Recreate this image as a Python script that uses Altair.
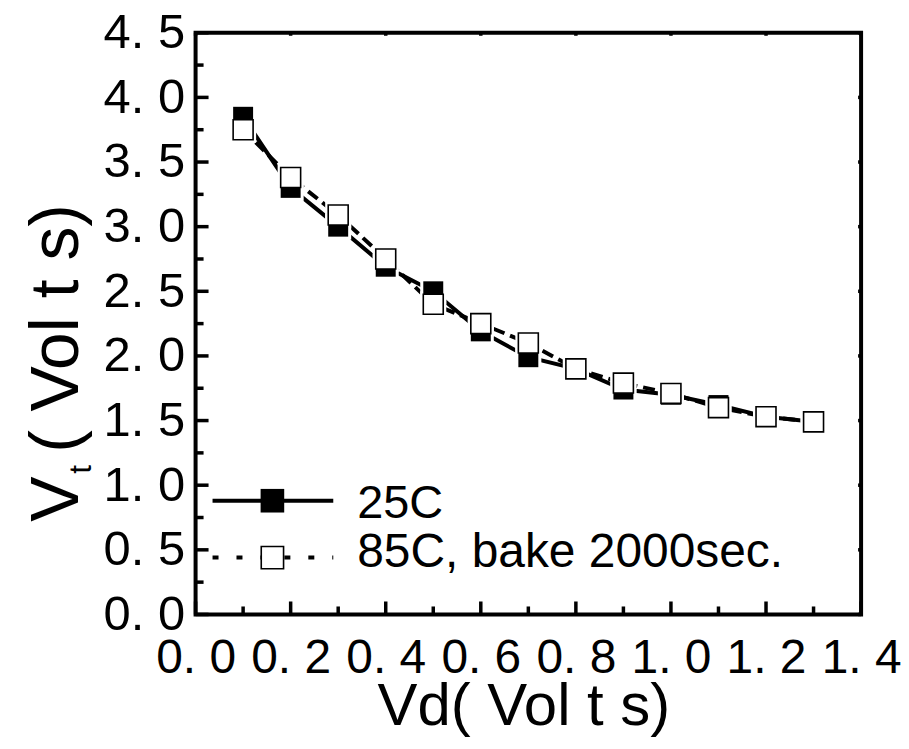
import altair as alt
import pandas as pd

# ---- data ----
vd = [0.1, 0.2, 0.3, 0.4, 0.5, 0.6, 0.7, 0.8, 0.9, 1.0, 1.1, 1.2, 1.3]
vt_25c = [3.85, 3.30, 3.00, 2.69, 2.50, 2.19, 1.99, 1.90, 1.74, 1.70, 1.62, 1.53, 1.49]
vt_85c = [3.75, 3.38, 3.09, 2.75, 2.40, 2.25, 2.10, 1.90, 1.79, 1.71, 1.60, 1.53, 1.49]
series_names = ["25C", "85C, bake 2000sec."]

x_major = [0.0, 0.2, 0.4, 0.6, 0.8, 1.0, 1.2, 1.4]
x_minor = [0.1, 0.3, 0.5, 0.7, 0.9, 1.1, 1.3]
y_major = [0.0, 0.5, 1.0, 1.5, 2.0, 2.5, 3.0, 3.5, 4.0, 4.5]
y_minor = [0.25, 0.75, 1.25, 1.75, 2.25, 2.75, 3.25, 3.75, 4.25]

x_title = "Vd( Vol t s)"
y_title_parts = ["V", "t", "( Vol t s)"]

# ---- layout ----
W, H = 667, 583
FONT = "Liberation Sans"

xs = alt.Scale(domain=[0, 1.4], nice=False, zero=False)
ys = alt.Scale(domain=[0, 4.5], nice=False, zero=False)

label_expr = "replace(format(datum.value, '.1f'), '.', '. ')"
xaxis = alt.Axis(values=x_major, labelExpr=label_expr, ticks=False, tickSize=0,
                 domain=False, grid=False, labelFont=FONT, labelFontSize=48,
                 labelColor="black", labelPadding=20, labelBaseline="top",
                 labelFlush=False, labelOverlap=False, title=None)
yaxis = alt.Axis(values=y_major, labelExpr=label_expr, ticks=False, tickSize=0,
                 domain=False, grid=False, labelFont=FONT, labelFontSize=49,
                 labelColor="black", labelPadding=11, labelBaseline="middle",
                 labelFlush=False, labelOverlap=False, title=None)

X = lambda f: alt.X(f, type="quantitative", scale=xs, axis=xaxis)
Y = lambda f: alt.Y(f, type="quantitative", scale=ys, axis=yaxis)

df = pd.DataFrame({"x": vd, "v25": vt_25c, "v85": vt_85c})

# ---- ticks (inward) ----
dxM = pd.DataFrame({"x": x_major})
dxm = pd.DataFrame({"x": x_minor})
dyM = pd.DataFrame({"y": y_major})
dym = pd.DataFrame({"y": y_minor})
tick_style = dict(color="black", strokeWidth=3.5)

ticks = [
    alt.Chart(dxM).mark_rule(**tick_style).encode(x=X("x"), y=alt.value(H), y2=alt.value(H - 13)),
    alt.Chart(dxm).mark_rule(**tick_style).encode(x=X("x"), y=alt.value(H), y2=alt.value(H - 8)),
    alt.Chart(dxM).mark_rule(**tick_style).encode(x=X("x"), y=alt.value(0), y2=alt.value(3)),
    alt.Chart(dyM).mark_rule(**tick_style).encode(y=Y("y"), x=alt.value(0), x2=alt.value(13)),
    alt.Chart(dym).mark_rule(**tick_style).encode(y=Y("y"), x=alt.value(0), x2=alt.value(8)),
    alt.Chart(dyM).mark_rule(**tick_style).encode(y=Y("y"), x=alt.value(W - 3), x2=alt.value(W)),
]

# ---- data series ----
line25 = alt.Chart(df).mark_line(color="black", strokeWidth=4).encode(x=X("x"), y=Y("v25"))
line85 = alt.Chart(df).mark_line(color="black", strokeWidth=4, strokeDash=[12, 6]).encode(x=X("x"), y=Y("v85"))
halo25 = alt.Chart(df).mark_point(shape="square", filled=True, color="white", opacity=1, size=680).encode(x=X("x"), y=Y("v25"))
halo85 = alt.Chart(df).mark_point(shape="square", filled=True, color="white", opacity=1, size=680).encode(x=X("x"), y=Y("v85"))
pts25 = alt.Chart(df).mark_point(shape="square", filled=True, color="black", opacity=1, size=400).encode(x=X("x"), y=Y("v25"))
pts85 = alt.Chart(df).mark_point(shape="square", filled=True, fill="white", stroke="black",
                                 strokeWidth=1.6, opacity=1, size=400).encode(x=X("x"), y=Y("v85"))

# ---- legend (drawn inside the plot) ----
leg1 = pd.DataFrame({"label": [series_names[0]]})
leg2 = pd.DataFrame({"label": [series_names[1]]})
legend = [
    alt.Chart(leg1).mark_rule(color="black", strokeWidth=4).encode(x=alt.value(17), x2=alt.value(138), y=alt.value(469)),
    alt.Chart(leg1).mark_point(shape="square", filled=True, color="black", opacity=1, size=560).encode(x=alt.value(77), y=alt.value(469)),
    alt.Chart(leg1).mark_text(align="left", baseline="alphabetic", font=FONT, fontSize=47, color="black").encode(
        x=alt.value(162), y=alt.value(486), text="label:N"),
    alt.Chart(leg2).mark_rule(color="black", strokeWidth=4, strokeDash=[6, 18]).encode(x=alt.value(17), x2=alt.value(138), y=alt.value(526)),
    alt.Chart(leg2).mark_point(shape="square", filled=True, fill="white", stroke="black", strokeWidth=1.6,
                               opacity=1, size=500).encode(x=alt.value(77), y=alt.value(526)),
    alt.Chart(leg2).mark_text(align="left", baseline="alphabetic", font=FONT, fontSize=48, color="black").encode(
        x=alt.value(162), y=alt.value(535), text="label:N"),
]

# ---- axis titles ----
tx = pd.DataFrame({"t": [x_title]})
ty0 = pd.DataFrame({"t": [y_title_parts[0]]})
ty1 = pd.DataFrame({"t": [y_title_parts[1]]})
ty2 = pd.DataFrame({"t": [y_title_parts[2]]})
titles = [
    alt.Chart(tx).mark_text(align="center", baseline="alphabetic", font=FONT, fontSize=60, color="black").encode(
        x=alt.value(329), y=alt.value(694), text="t:N"),
    alt.Chart(ty0).mark_text(align="left", baseline="alphabetic", angle=270, font=FONT, fontSize=68, color="black").encode(
        x=alt.value(-118), y=alt.value(490), text="t:N"),
    alt.Chart(ty1).mark_text(align="left", baseline="alphabetic", angle=270, font=FONT, fontSize=32, color="black").encode(
        x=alt.value(-105), y=alt.value(442), text="t:N"),
    alt.Chart(ty2).mark_text(align="left", baseline="alphabetic", angle=270, font=FONT, fontSize=68, color="black").encode(
        x=alt.value(-118), y=alt.value(421), text="t:N"),
]

chart = alt.layer(
    *ticks, line25, line85, halo25, halo85, pts25, pts85, *legend, *titles
).properties(
    width=W, height=H,
    autosize=alt.AutoSizeParams(type="none"),
    padding={"left": 188, "top": 24, "right": 40, "bottom": 125},
    background="white",
).configure_view(stroke="black", strokeWidth=4)

chart.save("out.html", embed_options={"renderer": "svg", "actions": False})
